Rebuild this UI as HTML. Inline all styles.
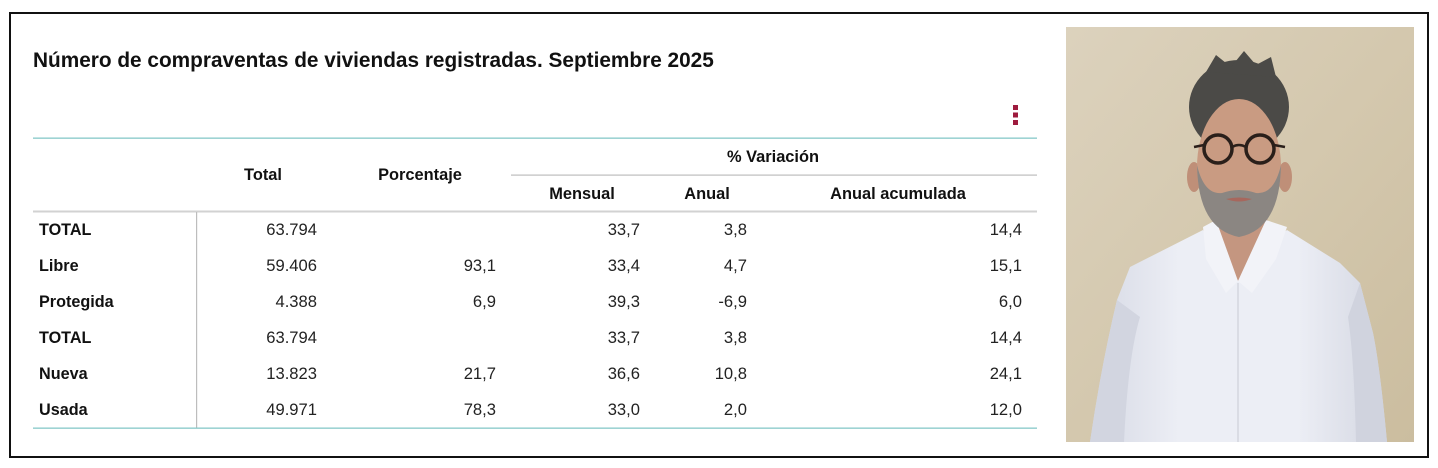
<!DOCTYPE html>
<html>
<head>
<meta charset="utf-8">
<style>
html,body{margin:0;padding:0;background:#fff;}
body{width:1438px;height:468px;position:relative;overflow:hidden;font-family:"Liberation Sans",Arial,sans-serif;}
.frame{position:absolute;left:9px;top:12px;width:1416px;height:442px;border:2px solid #111;}
svg{position:absolute;left:0;top:0;}
</style>
</head>
<body>
<div class="frame"></div>
<svg width="1438" height="468" viewBox="0 0 1438 468" xmlns="http://www.w3.org/2000/svg" font-family="Liberation Sans, Arial, sans-serif">
  <!-- Title -->
  <text x="33" y="67" font-size="20.8" font-weight="bold" fill="#111">Número de compraventas de viviendas registradas. Septiembre 2025</text>

  <!-- menu icon -->
  <rect x="1013" y="105" width="5" height="5" fill="#9e1b3e"/>
  <rect x="1013" y="112.5" width="5" height="5" fill="#9e1b3e"/>
  <rect x="1013" y="120" width="5" height="5" fill="#9e1b3e"/>

  <!-- lines -->
  <rect x="33" y="137.5" width="1004" height="1.3" fill="#86c8c8"/>
  <rect x="511" y="174.5" width="526" height="1.2" fill="#bdbdbd"/>
  <rect x="33" y="210.5" width="1004" height="2" fill="#d2d2d2"/>
  <rect x="196" y="212" width="1.2" height="216" fill="#bdbdbd"/>
  <rect x="33" y="427.5" width="1004" height="1.3" fill="#86c8c8"/>

  <!-- headers -->
  <g font-size="16.4" font-weight="bold" fill="#111" text-anchor="middle">
    <text x="263" y="180">Total</text>
    <text x="420" y="180">Porcentaje</text>
    <text x="773" y="162">% Variación</text>
    <text x="582" y="199">Mensual</text>
    <text x="707" y="199">Anual</text>
    <text x="898" y="199">Anual acumulada</text>
  </g>

  <!-- row labels -->
  <g font-size="16.2" font-weight="bold" fill="#111">
    <text x="39" y="235">TOTAL</text>
    <text x="39" y="271">Libre</text>
    <text x="39" y="307">Protegida</text>
    <text x="39" y="343">TOTAL</text>
    <text x="39" y="379">Nueva</text>
    <text x="39" y="415">Usada</text>
  </g>

  <!-- values -->
  <g font-size="16.6" fill="#222" text-anchor="end">
    <text x="317" y="235">63.794</text>
    <text x="640" y="235">33,7</text>
    <text x="747" y="235">3,8</text>
    <text x="1022" y="235">14,4</text>

    <text x="317" y="271">59.406</text>
    <text x="496" y="271">93,1</text>
    <text x="640" y="271">33,4</text>
    <text x="747" y="271">4,7</text>
    <text x="1022" y="271">15,1</text>

    <text x="317" y="307">4.388</text>
    <text x="496" y="307">6,9</text>
    <text x="640" y="307">39,3</text>
    <text x="747" y="307">-6,9</text>
    <text x="1022" y="307">6,0</text>

    <text x="317" y="343">63.794</text>
    <text x="640" y="343">33,7</text>
    <text x="747" y="343">3,8</text>
    <text x="1022" y="343">14,4</text>

    <text x="317" y="379">13.823</text>
    <text x="496" y="379">21,7</text>
    <text x="640" y="379">36,6</text>
    <text x="747" y="379">10,8</text>
    <text x="1022" y="379">24,1</text>

    <text x="317" y="415">49.971</text>
    <text x="496" y="415">78,3</text>
    <text x="640" y="415">33,0</text>
    <text x="747" y="415">2,0</text>
    <text x="1022" y="415">12,0</text>
  </g>

  <!-- Photo -->
  <defs>
    <linearGradient id="wall" x1="0" y1="0" x2="1" y2="1">
      <stop offset="0" stop-color="#dcd2bd"/>
      <stop offset="0.5" stop-color="#d4c8ae"/>
      <stop offset="1" stop-color="#cbbd9f"/>
    </linearGradient>
    <linearGradient id="shirt" x1="0" y1="0" x2="1" y2="0">
      <stop offset="0" stop-color="#d6d9e4"/>
      <stop offset="0.3" stop-color="#eceef5"/>
      <stop offset="0.7" stop-color="#eceef5"/>
      <stop offset="1" stop-color="#d3d6e1"/>
    </linearGradient>
    <clipPath id="pc"><rect x="0" y="0" width="348" height="415"/></clipPath>
  </defs>
  <g transform="translate(1066,27)" clip-path="url(#pc)">
    <rect x="0" y="0" width="348" height="415" fill="url(#wall)"/>
    <!-- neck -->
    <path d="M148,185 L200,185 L206,218 L172,254 L142,218 Z" fill="#c49680"/>
    <!-- shirt -->
    <path d="M137,203 L64,240 L51,273 Q35,340 24,415 L321,415 Q314,340 307,306 L294,256 L274,236 L221,203 L206,215 L172,254 L142,215 Z" fill="url(#shirt)"/>
    <!-- arm shading -->
    <path d="M51,273 Q35,340 24,415 L58,415 Q62,330 74,290 Z" fill="#d2d5e0"/>
    <path d="M294,256 L307,306 Q314,340 321,415 L290,415 Q288,330 282,290 Z" fill="#d0d3de"/>
    <!-- collar flaps -->
    <path d="M137,200 L150,193 L172,254 L160,266 L140,232 Z" fill="#f2f3f8"/>
    <path d="M221,200 L200,193 L172,254 L186,266 L210,232 Z" fill="#f2f3f8"/>
    <line x1="172" y1="256" x2="172" y2="415" stroke="#d3d6df" stroke-width="1.5"/>
    <!-- hair -->
    <ellipse cx="173" cy="80" rx="50" ry="47" fill="#4b4a47"/>
    <path d="M140,45 L150,28 L165,40 L178,24 L190,38 L205,30 L210,50 Z" fill="#4b4a47"/>
    <!-- ears -->
    <ellipse cx="128" cy="150" rx="7" ry="15" fill="#bf8f78"/>
    <ellipse cx="219" cy="150" rx="7" ry="15" fill="#bf8f78"/>
    <!-- face -->
    <ellipse cx="173" cy="140" rx="42" ry="68" fill="#c99b82"/>
    <!-- beard -->
    <path d="M131,138 Q132,202 173,210 Q214,202 215,138 Q208,168 190,166 Q173,160 156,166 Q138,168 131,138 Z" fill="#8b8682"/>
    <path d="M160,172 Q173,169 186,172 Q173,177 160,172 Z" fill="#a7675d"/>
    <!-- glasses -->
    <circle cx="152" cy="122" r="14" fill="none" stroke="#2a1f1a" stroke-width="3.5"/>
    <circle cx="194" cy="122" r="14" fill="none" stroke="#2a1f1a" stroke-width="3.5"/>
    <path d="M166,120 Q173,116 180,120" fill="none" stroke="#2a1f1a" stroke-width="2.5"/>
    <line x1="138" y1="118" x2="128" y2="120" stroke="#2a1f1a" stroke-width="2.5"/>
    <line x1="208" y1="118" x2="219" y2="120" stroke="#2a1f1a" stroke-width="2.5"/>
  </g>
</svg>
</body>
</html>
